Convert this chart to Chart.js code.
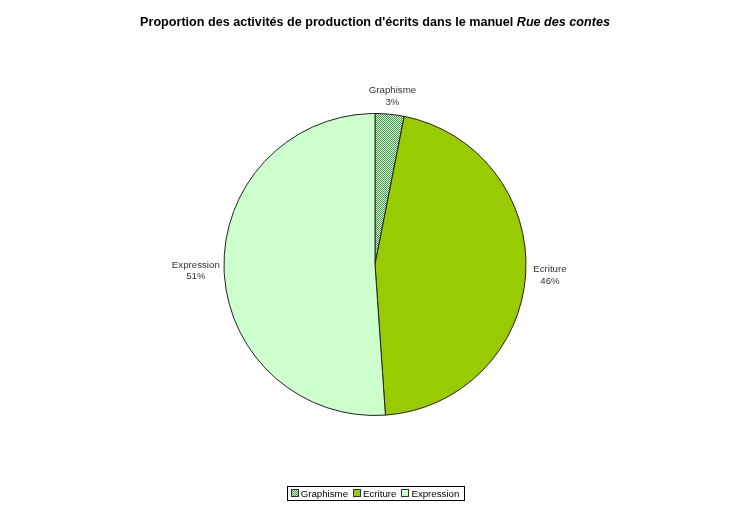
<!DOCTYPE html>
<html><head><meta charset="utf-8">
<script src="https://cdn.jsdelivr.net/npm/chart.js@4"></script>
<style>html,body{margin:0;padding:0;background:#fff}#wrap{width:750px;height:506px}</style>
</head><body><div id="wrap"><canvas id="c"></canvas></div>
<script>
const categories = ["Graphisme", "Ecriture", "Expression"];
const values = [3.1, 45.8, 51.1];
const pctLabels = ["3%", "46%", "51%"];
const titleMain = "Proportion des activités de production d'écrits dans le manuel ";
const titleItalic = "Rue des contes";

const ctx0 = document.getElementById('c').getContext('2d');
const pattern = ctx0.createPattern((()=>{const p=document.createElement('canvas');p.width=2;p.height=2;const g=p.getContext('2d');g.fillStyle='#dcf3dc';g.fillRect(0,0,2,2);g.fillStyle='#3f9a45';g.fillRect(0,0,1,1);g.fillRect(1,1,1,1);return p;})(), 'repeat');
const colors = [pattern, '#99cc00', '#ccffcc'];

const FONT = '"Liberation Sans", Arial, sans-serif';
const LFS = 9.7;

const decor = {
  id: 'decor',
  afterDraw(chart) {
    const ctx = chart.ctx;
    ctx.save();
    // title
    ctx.font = 'bold 12.6px ' + FONT;
    const w1 = ctx.measureText(titleMain).width;
    ctx.font = 'italic bold 12.6px ' + FONT;
    const w2 = ctx.measureText(titleItalic).width;
    let x = chart.width / 2 - (w1 + w2) / 2;
    ctx.fillStyle = '#000';
    ctx.textBaseline = 'middle';
    ctx.textAlign = 'left';
    ctx.font = 'bold 12.6px ' + FONT;
    ctx.fillText(titleMain, x, 23);
    ctx.font = 'italic bold 12.6px ' + FONT;
    ctx.fillText(titleItalic, x + w1, 23);

    // slice labels
    const meta = chart.getDatasetMeta(0);
    ctx.font = LFS + 'px ' + FONT;
    ctx.fillStyle = '#333';
    ctx.textAlign = 'center';
    meta.data.forEach((arc, i) => {
      const p = arc.getProps(['x','y','startAngle','endAngle','outerRadius'], true);
      const mid = (p.startAngle + p.endAngle) / 2;
      const r = p.outerRadius * 1.1;
      const c = Math.cos(mid), s = Math.sin(mid);
      const hw = Math.max(ctx.measureText(categories[i]).width, ctx.measureText(pctLabels[i]).width) / 2;
      const cx = p.x + c * r + c * 0.55 * hw;
      const cy = p.y + s * r + s * 0.3 * 11;
      ctx.fillText(categories[i], cx, cy - 5.5);
      ctx.fillText(pctLabels[i], cx, cy + 6);
    });

    // legend
    ctx.font = LFS + 'px ' + FONT;
    const box = 8, gapBox = 2, gapItem = 5;
    const widths = categories.map(t => ctx.measureText(t).width);
    let total = 0;
    widths.forEach((w, i) => { total += box + gapBox + w + (i < widths.length - 1 ? gapItem : 0); });
    const padX = 4;
    const lx = chart.width / 2 - total / 2;
    const ly = 493;
    ctx.strokeStyle = '#000';
    ctx.lineWidth = 1;
    ctx.strokeRect(Math.round(lx - padX) + 0.5, 486.5, Math.round(total + 2 * padX), 14);
    let cx = lx;
    ctx.textAlign = 'left';
    categories.forEach((t, i) => {
      ctx.fillStyle = colors[i];
      ctx.fillRect(Math.round(cx), ly - 4, box, box);
      ctx.strokeStyle = '#333';
      ctx.strokeRect(Math.round(cx) + 0.5, ly - 3.5, box - 1, box - 1);
      ctx.fillStyle = '#000';
      ctx.fillText(t, cx + box + gapBox, ly + 1);
      cx += box + gapBox + widths[i] + gapItem;
    });
    ctx.restore();
  }
};

new Chart(document.getElementById('c'), {
  type: 'pie',
  data: {
    labels: categories,
    datasets: [{
      data: values,
      backgroundColor: colors,
      borderColor: '#222',
      borderWidth: 1
    }]
  },
  options: {
    responsive: true,
    maintainAspectRatio: false,
    animation: false,
    devicePixelRatio: 1,
    layout: { padding: { top: 113, bottom: 90, left: 0, right: 0 } },
    plugins: { legend: { display: false }, tooltip: { enabled: false }, title: { display: false } }
  },
  plugins: [decor]
});
</script>
</body></html>
